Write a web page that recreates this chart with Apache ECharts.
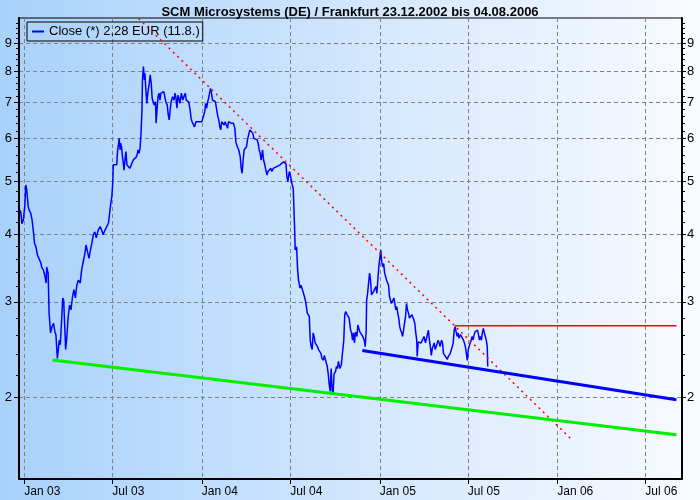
<!DOCTYPE html>
<html>
<head>
<meta charset="utf-8">
<script src="https://cdn.jsdelivr.net/npm/echarts@6/dist/echarts.min.js"></script>
<style>
  html, body { margin: 0; padding: 0; }
  #chart { width: 700px; height: 500px; }
</style>
</head>
<body>
<div id="chart"></div>
<script>
const chartTitle = "SCM Microsystems (DE) / Frankfurt 23.12.2002 bis 04.08.2006";
const closeName = "Close (*) 2,28 EUR (11.8.)";

// close prices, day offset from 01.01.2003
const closeDays = [
  -9, -7, -5, -2, 1, 3, 5, 8, 10, 13, 16, 19, 21, 24, 27, 31, 34, 36, 39, 42,
  45, 46, 49, 51, 54, 57, 60, 63, 65, 68, 71, 72, 74, 77, 79, 81, 83, 85, 87, 90,
  93, 96, 99, 102, 105, 108, 111, 115, 118, 121, 124, 127, 130, 133, 136, 139, 142, 145, 148, 152,
  156, 159, 162, 166, 169, 173, 176, 178, 180, 182, 183, 186, 190, 192, 194, 195, 197, 198, 200, 201,
  204, 205, 207, 209, 211, 214, 217, 221, 224, 228, 231, 234, 236, 238, 240, 242, 243, 245, 247, 248,
  250, 252, 254, 257, 259, 261, 263, 265, 267, 270, 271, 273, 275, 277, 279, 281, 284, 287, 289, 291,
  294, 296, 298, 300, 302, 305, 308, 310, 312, 314, 316, 318, 320, 323, 326, 328, 331, 333, 335, 338,
  341, 343, 345, 347, 350, 353, 356, 359, 361, 365, 368, 371, 373, 375, 377, 379, 381, 383, 385, 387,
  390, 393, 396, 398, 400, 402, 404, 406, 409, 411, 413, 416, 418, 420, 423, 425, 427, 430, 433, 435,
  438, 441, 444, 446, 448, 450, 452, 454, 457, 459, 462, 464, 466, 468, 470, 472, 474, 476, 479, 481,
  483, 485, 487, 490, 492, 494, 496, 499, 501, 504, 507, 509, 512, 516, 519, 522, 526, 529, 533, 536,
  538, 540, 542, 543, 545, 547, 549, 551, 553, 555, 556, 557, 560, 562, 564, 567, 569, 571, 574, 576,
  578, 580, 582, 584, 586, 588, 590, 592, 594, 596, 598, 601, 603, 605, 608, 610, 612, 615, 617, 619,
  621, 623, 625, 627, 629, 631, 633, 635, 637, 640, 642, 644, 646, 649, 652, 655, 657, 659, 661, 664,
  666, 668, 671, 673, 675, 677, 679, 681, 684, 686, 688, 690, 693, 696, 699, 701, 703, 704, 706, 708,
  710, 712, 714, 716, 718, 720, 723, 725, 727, 729, 731, 733, 735, 737, 739, 741, 743, 745, 747, 749,
  751, 753, 755, 758, 760, 762, 764, 766, 768, 770, 772, 774, 776, 778, 780, 782, 784, 786, 788, 790,
  792, 795, 797, 799, 801, 803, 805, 807, 808, 810, 812, 814, 816, 818, 820, 822, 825, 827, 829, 831,
  833, 835, 837, 839, 841, 843, 845, 847, 849, 851, 853, 855, 858, 860, 862, 864, 866, 868, 870, 872,
  874, 876, 878, 880, 882, 884, 886, 888, 890, 892, 894, 897, 899, 901, 903, 905, 907, 909, 911, 913,
  915, 917, 919, 921, 923, 925, 927, 929, 932, 934, 936, 938, 940, 942, 944, 946, 948, 950, 952, 953
];
const closeValues = [
  4.43, 4.38, 4.18, 4.25, 4.50, 4.93, 4.83, 4.50, 4.43, 4.38, 4.25, 4.02, 3.85, 3.79, 3.66, 3.63, 3.54, 3.47, 3.44, 3.36,
  3.25, 3.48, 3.39, 2.86, 2.63, 2.70, 2.74, 2.64, 2.61, 2.36, 2.36, 2.55, 2.50, 2.80, 3.05, 3.02, 2.72, 2.45, 2.55, 2.80,
  2.96, 2.90, 3.06, 3.16, 3.05, 3.22, 3.29, 3.25, 3.44, 3.55, 3.66, 3.82, 3.71, 3.61, 3.74, 3.85, 3.99, 4.04, 3.94, 4.07,
  4.13, 4.07, 3.99, 4.07, 4.04, 4.19, 4.22, 4.57, 4.69, 5.00, 5.37, 5.37, 5.37, 5.72, 5.88, 6.01, 5.72, 5.89, 5.80, 5.65,
  5.37, 5.25, 5.48, 5.68, 5.37, 5.40, 5.29, 5.29, 5.48, 5.44, 5.56, 5.72, 5.64, 5.76, 6.14, 6.78, 7.70, 8.15, 7.70, 7.92,
  7.38, 6.97, 7.28, 7.59, 7.87, 7.59, 7.12, 7.17, 6.92, 7.02, 6.41, 6.78, 7.17, 7.28, 7.07, 7.28, 7.33, 7.33, 7.17, 7.02,
  6.92, 6.64, 6.50, 6.78, 7.02, 7.17, 7.07, 7.28, 7.12, 6.83, 7.22, 7.12, 6.97, 7.28, 7.07, 7.17, 7.28, 7.07, 7.02, 7.02,
  6.78, 6.54, 6.45, 6.50, 6.31, 6.45, 6.41, 6.45, 6.45, 6.45, 6.50, 6.73, 6.97, 6.83, 7.02, 7.12, 7.28, 7.43, 7.28, 7.07,
  7.02, 7.02, 6.97, 6.59, 6.50, 6.31, 6.23, 6.45, 6.50, 6.36, 6.45, 6.41, 6.27, 6.45, 6.50, 6.41, 6.45, 6.41, 6.27, 5.92,
  5.80, 5.72, 5.56, 5.29, 5.18, 5.48, 5.72, 5.72, 5.80, 5.97, 6.14, 6.23, 6.27, 6.23, 6.14, 6.01, 5.97, 6.05, 5.97, 5.88,
  5.72, 5.64, 5.48, 5.72, 5.48, 5.40, 5.29, 5.14, 5.22, 5.25, 5.29, 5.22, 5.29, 5.29, 5.33, 5.29, 5.37, 5.40, 5.44, 5.48,
  5.40, 5.11, 5.00, 5.07, 5.22, 5.14, 5.03, 4.93, 4.86, 4.83, 4.07, 3.74, 3.79, 3.44, 3.29, 3.18, 3.22, 3.18, 3.16, 3.07,
  3.02, 2.94, 2.86, 2.84, 2.82, 2.55, 2.48, 2.45, 2.63, 2.59, 2.52, 2.52, 2.48, 2.45, 2.45, 2.41, 2.36, 2.34, 2.39, 2.38,
  2.38, 2.28, 2.21, 2.11, 2.05, 2.26, 2.06, 2.03, 2.21, 2.23, 2.28, 2.26, 2.33, 2.26, 2.30, 2.31, 2.55, 2.84, 2.88, 2.84,
  2.86, 2.80, 2.66, 2.63, 2.55, 2.63, 2.52, 2.64, 2.59, 2.72, 2.68, 2.64, 2.63, 2.59, 2.55, 2.48, 2.64, 3.02, 3.11, 3.25,
  3.39, 3.29, 3.09, 3.07, 3.13, 3.16, 3.20, 3.11, 3.29, 3.48, 3.61, 3.74, 3.56, 3.48, 3.53, 3.39, 3.41, 3.29, 3.29, 3.22,
  3.07, 3.02, 2.98, 3.02, 3.05, 2.98, 2.90, 2.94, 2.86, 2.80, 2.70, 2.66, 2.63, 2.59, 2.61, 2.59, 2.82, 2.98, 2.90, 2.86,
  2.80, 2.82, 2.84, 2.84, 2.78, 2.74, 2.63, 2.55, 2.38, 2.53, 2.52, 2.52, 2.52, 2.53, 2.52, 2.59, 2.52, 2.52, 2.52, 2.66,
  2.55, 2.48, 2.39, 2.46, 2.48, 2.52, 2.45, 2.48, 2.46, 2.55, 2.52, 2.48, 2.55, 2.52, 2.41, 2.39, 2.38, 2.36, 2.35, 2.38,
  2.39, 2.41, 2.39, 2.48, 2.52, 2.66, 2.70, 2.64, 2.59, 2.63, 2.57, 2.61, 2.59, 2.63, 2.55, 2.52, 2.48, 2.41, 2.34, 2.45,
  2.46, 2.52, 2.53, 2.59, 2.55, 2.61, 2.64, 2.63, 2.66, 2.61, 2.55, 2.59, 2.55, 2.63, 2.68, 2.63, 2.59, 2.55, 2.48, 2.28
];

// trend lines
const downTrendDates = ["2003-08-24", "2006-01-31"];
const downTrendValues = [10.0, 1.67];
const resistanceDates = ["2005-06-04", "2006-09-03"];
const resistanceValues = [2.71, 2.71];
const supportDates = ["2004-11-26", "2006-09-03"];
const supportValues = [2.44, 1.98];
const longSupportDates = ["2003-02-28", "2006-09-03"];
const longSupportValues = [2.344, 1.706];

// axis ticks
const dateTicks = ["2003-01-01", "2003-07-01", "2004-01-01", "2004-07-01",
  "2005-01-01", "2005-07-01", "2006-01-01", "2006-07-01"];
const monthNames = ["Jan", "Feb", "Mar", "Apr", "May", "Jun", "Jul", "Aug", "Sep", "Oct", "Nov", "Dec"];
const majorTicks = [2, 3, 4, 5, 6, 7, 8, 9];
const minorTicks = [2.2, 2.4, 2.6, 2.8, 3.2, 3.4, 3.6, 3.8, 4.2, 4.4, 4.6, 4.8,
  5.2, 5.4, 5.6, 5.8, 6.2, 6.4, 6.6, 6.8, 7.2, 7.4, 7.6, 7.8,
  8.2, 8.4, 8.6, 8.8, 9.2, 9.4, 9.6, 9.8];

const fontFamily = '"Liberation Sans", Arial, sans-serif';
const DAY = 86400000;
const day0 = Date.parse("2003-01-01");
const lg = v => Math.log10(v);

// log scale done by hand so ticks can sit on 2..9
const yMin = 0.1503;
const yMax = 1.0009;
const xMin = day0 - 10.9 * DAY;
const xMax = day0 + 1352.5 * DAY;

const closeData = closeDays.map((d, i) => [day0 + d * DAY, lg(closeValues[i])]);
const lineData = (dates, vals) => dates.map((d, i) => [Date.parse(d), lg(vals[i])]);

function yAxisDef(position, ticks, tickLen, main) {
  return {
    type: "value",
    position: position,
    min: yMin,
    max: yMax,
    axisLine: { show: main, lineStyle: { color: "#000", width: 2 } },
    axisTick: {
      show: true,
      length: tickLen,
      customValues: ticks.map(lg),
      lineStyle: { color: "#000", width: 1 }
    },
    axisLabel: {
      show: main,
      customValues: ticks.map(lg),
      formatter: v => String(Math.round(Math.pow(10, v))),
      margin: position === "left" ? 7 : 5,
      color: "#000",
      fontSize: 13,
      fontFamily: fontFamily
    },
    splitLine: {
      show: main && position === "left",
      lineStyle: { color: "#808080", width: 1, type: [4, 3] }
    }
  };
}

const trendSeries = (name, data, color, width, type) => ({
  name: name,
  type: "line",
  data: data,
  showSymbol: false,
  silent: true,
  lineStyle: { color: color, width: width, type: type || "solid" },
  z: 4
});

const chart = echarts.init(document.getElementById("chart"));
chart.setOption({
  animation: false,
  backgroundColor: new echarts.graphic.LinearGradient(0, 0, 1, 0, [
    { offset: 0, color: "#a8d1fb" },
    { offset: 1, color: "#f9fbff" }
  ]),
  title: {
    text: chartTitle,
    left: "center",
    top: 1,
    textStyle: { fontSize: 13, fontWeight: "bold", color: "#000", fontFamily: fontFamily }
  },
  legend: {
    left: 27,
    top: 22,
    padding: [3, 3, 3, 5],
    borderColor: "#000",
    borderWidth: 1,
    backgroundColor: "transparent",
    itemWidth: 12,
    itemHeight: 2,
    data: [{ name: closeName, icon: "rect", itemStyle: { color: "#0000ff" } }],
    textStyle: { fontSize: 13, color: "#000", fontFamily: fontFamily }
  },
  grid: {
    left: 19,
    right: 18,
    top: 18,
    bottom: 21,
    show: true,
    borderColor: "#000",
    borderWidth: 1,
    containLabel: false,
    outerBoundsMode: "none"
  },
  xAxis: {
    type: "value",
    min: xMin,
    max: xMax,
    axisLine: { lineStyle: { color: "#000", width: 2 } },
    axisTick: {
      show: true,
      length: 5,
      customValues: dateTicks.map(d => Date.parse(d)),
      lineStyle: { color: "#000", width: 1 }
    },
    axisLabel: {
      customValues: dateTicks.map(d => Date.parse(d)),
      formatter: v => {
        const d = new Date(v);
        return monthNames[d.getUTCMonth()] + " " + String(d.getUTCFullYear()).slice(2);
      },
      align: "left",
      margin: 7,
      color: "#000",
      fontSize: 12,
      fontFamily: fontFamily
    },
    splitLine: {
      show: true,
      lineStyle: { color: "#808080", width: 1, type: [4, 3] }
    }
  },
  yAxis: [
    yAxisDef("left", majorTicks, 5, true),
    yAxisDef("right", majorTicks, 4, true),
    yAxisDef("left", minorTicks, 3, false),
    yAxisDef("right", minorTicks, 3, false)
  ],
  series: [
    {
      name: closeName,
      type: "line",
      data: closeData,
      showSymbol: false,
      color: "#0000ff",
      lineStyle: { color: "#0000ff", width: 1.5 },
      z: 3
    },
    trendSeries("Abwaertstrend", lineData(downTrendDates, downTrendValues), "#ff0000", 1.5, [2, 4]),
    trendSeries("Widerstand", lineData(resistanceDates, resistanceValues), "#ff0000", 1.5),
    trendSeries("Unterstuetzung", lineData(supportDates, supportValues), "#0000ff", 3),
    trendSeries("Unterstuetzung lang", lineData(longSupportDates, longSupportValues), "#00ee00", 3)
  ]
});
</script>
</body>
</html>
